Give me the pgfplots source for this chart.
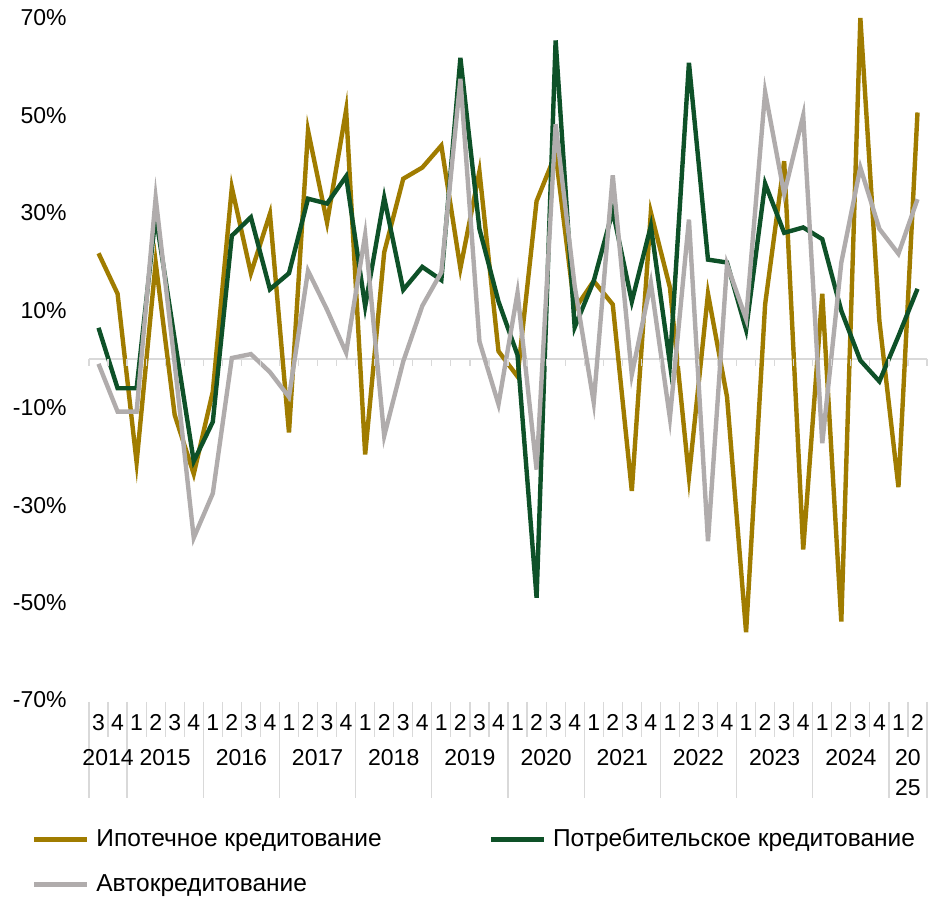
\documentclass[border=0pt]{standalone}
\usepackage{fontspec}
\setmainfont{Liberation Sans}
\usepackage{pgfplots}
\usepackage{pgfplotstable}
\pgfplotsset{compat=1.18}

\definecolor{ipo}{HTML}{A07C00}
\definecolor{potr}{HTML}{0E5128}
\definecolor{avto}{HTML}{B0ACAC}
\definecolor{sepc}{HTML}{D9D9D9}

% квартальные приросты, %
\pgfplotstableread{
x  ipo    potr   avto
0  21.7   6.4   -1.0
1  13.4  -6.0  -10.8
2 -21.2  -6.0  -10.8
3  19.8  29.5   33.1
4 -11.5   4.0   -1.0
5 -23.6 -21.0  -36.7
6  -6.7 -12.9  -27.6
7  35.2  25.3    0.2
8  17.6  29.1    1.0
9  29.8  14.3   -2.7
10 -15.1 17.6   -7.8
11 46.9  32.9   18.1
12 28.0  31.9   10.1
13 51.1  37.5    1.3
14 -19.6 10.8   25.5
15 21.9  33.1  -15.8
16 37.0  14.2   -0.5
17 39.3  18.9   10.9
18 43.8  16.2   17.8
19 18.6  61.8   57.5
20 38.5  26.7    3.6
21  1.6  11.8   -9.3
22 -3.6   0.8   13.6
23 32.4 -49.0  -22.7
24 42.1  65.4   48.2
25 10.2   6.5   15.0
26 16.0  16.0   -8.9
27 11.2  30.4   37.7
28 -27.1 11.8   -3.2
29 30.1  27.3   15.6
30 14.7  -0.9  -12.1
31 -24.2 60.8   28.6
32 13.4  20.4  -37.4
33 -7.8  19.8   19.4
34 -56.1  6.0    8.2
35 11.2  36.0   54.8
36 40.6  25.9   33.9
37 -39.1 27.0   50.0
38 13.4  24.6  -17.3
39 -53.9  9.9   19.8
40 70.0  -0.3   39.3
41  7.8  -4.6   26.7
42 -26.3  4.7   21.6
43 50.6  14.4   32.8
}\datatable

\begin{document}
\begin{tikzpicture}[font=\fontsize{11.5}{13.8}\selectfont]
\path[use as bounding box] (0,0) rectangle (464.5pt,448.5pt);
\begin{axis}[
    at={(44.5pt,98.5pt)}, anchor=south west,
    width=419pt, height=341pt, scale only axis,
    xmin=-0.5, xmax=43.5, ymin=-70, ymax=70,
    clip mode=individual,
    axis line style={draw=none},
    major tick length=0pt,
    ytick={-70,-50,-30,-10,10,30,50,70},
    yticklabels={-70\%,-50\%,-30\%,-10\%,10\%,30\%,50\%,70\%},
    yticklabel style={anchor=east, inner sep=0pt, xshift=-11pt},
    xtick={0,...,43},
    xticklabels={3,4,1,2,3,4,1,2,3,4,1,2,3,4,1,2,3,4,1,2,3,4,1,2,3,4,1,2,3,4,1,2,3,4,1,2,3,4,1,2,3,4,1,2},
    xticklabel style={anchor=base, inner sep=0pt, yshift=-15.25pt},
    extra y ticks={0}, extra y tick labels={},
    extra y tick style={grid=major, major grid style={sepc, line width=1.2pt}},
    legend columns=2,
    legend cell align=left,
    legend style={at={(0,0)}, anchor=north west, xshift=-28.5pt, yshift=-64.75pt,
        draw=none, fill=none, inner sep=0pt, outer sep=0pt, row sep=11.5pt,
        font=\fontsize{12.25}{14}\selectfont,
        nodes={inner sep=0pt, text height=8.5pt, text depth=2.5pt},
        /tikz/every odd column/.append style={column sep=3.5pt},
        /tikz/every even column/.append style={column sep=53.5pt}},
    legend image code/.code={\draw[#1] (0pt,0.5pt) -- (26.5pt,0.5pt);},
]
\addplot[ipo, line width=2.2pt] table[x=x, y=ipo] {\datatable};
\addlegendentry{Ипотечное кредитование}
\addplot[potr, line width=2.2pt] table[x=x, y=potr] {\datatable};
\addlegendentry{Потребительское кредитование}
\addplot[avto, line width=2.2pt] table[x=x, y=avto] {\datatable};
\addlegendentry{Автокредитование}

% засечки на нулевой линии и короткие разделители кварталов
\pgfplotsinvokeforeach{-0.5,0.5,...,43.5}{
    \draw[sepc, line width=0.6pt] (axis cs:#1,0) -- ([yshift=-3.5pt]axis cs:#1,0);
    \draw[sepc, line width=0.6pt] ([yshift=-1pt]axis cs:#1,-70) -- ([yshift=-18.5pt]axis cs:#1,-70);
}
% длинные разделители лет
\pgfplotsinvokeforeach{-0.5,1.5,5.5,9.5,13.5,17.5,21.5,25.5,29.5,33.5,37.5,41.5,43.5}{
    \draw[sepc, line width=0.6pt] ([yshift=-1pt]axis cs:#1,-70) -- ([yshift=-49pt]axis cs:#1,-70);
}
\node[anchor=base, yshift=-32.75pt] at (axis cs:0.5,-70) {2014};
\node[anchor=base, yshift=-32.75pt] at (axis cs:3.5,-70) {2015};
\node[anchor=base, yshift=-32.75pt] at (axis cs:7.5,-70) {2016};
\node[anchor=base, yshift=-32.75pt] at (axis cs:11.5,-70) {2017};
\node[anchor=base, yshift=-32.75pt] at (axis cs:15.5,-70) {2018};
\node[anchor=base, yshift=-32.75pt] at (axis cs:19.5,-70) {2019};
\node[anchor=base, yshift=-32.75pt] at (axis cs:23.5,-70) {2020};
\node[anchor=base, yshift=-32.75pt] at (axis cs:27.5,-70) {2021};
\node[anchor=base, yshift=-32.75pt] at (axis cs:31.5,-70) {2022};
\node[anchor=base, yshift=-32.75pt] at (axis cs:35.5,-70) {2023};
\node[anchor=base, yshift=-32.75pt] at (axis cs:39.5,-70) {2024};
\node[anchor=base, yshift=-32.75pt] at (axis cs:42.5,-70) {20};
\node[anchor=base, yshift=-47.75pt] at (axis cs:42.5,-70) {25};
\end{axis}
\end{tikzpicture}
\end{document}
